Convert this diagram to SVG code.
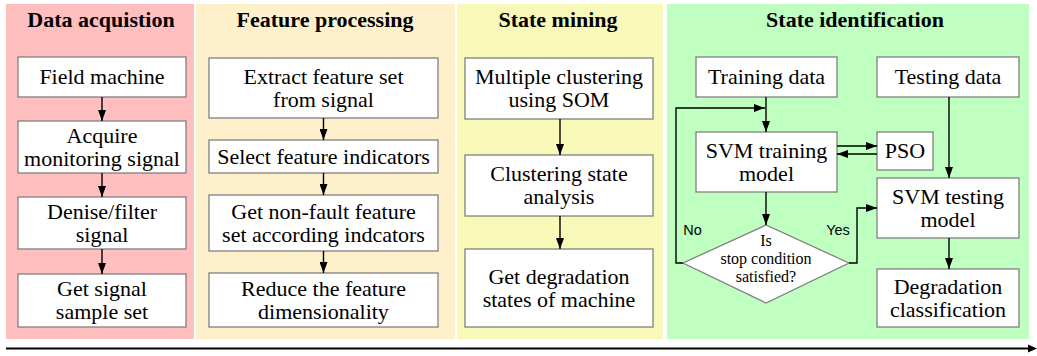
<svg xmlns="http://www.w3.org/2000/svg" width="1037" height="356" viewBox="0 0 1037 356">
<style>
.t{font-family:"Liberation Serif","Times New Roman",serif;font-size:22px;fill:#000;text-anchor:middle}
.h{font-family:"Liberation Serif","Times New Roman",serif;font-size:22px;font-weight:bold;fill:#000;text-anchor:middle}
.d{font-family:"Liberation Serif","Times New Roman",serif;font-size:16px;fill:#000;text-anchor:middle}
.s{font-family:"Liberation Sans",Arial,sans-serif;font-size:14.5px;fill:#000;text-anchor:middle}
.b{fill:#fff;stroke:#808080;stroke-width:1.3}
.c{fill:none;stroke:#000;stroke-width:1.4;marker-end:url(#ah)}
</style>
<defs>
<marker id="ah" markerUnits="userSpaceOnUse" markerWidth="11" markerHeight="8" refX="11" refY="4" orient="auto">
<path d="M0,0 L11,4 L0,8 z" fill="#000"/>
</marker>
</defs>
<rect width="1037" height="356" fill="#fff"/>
<g id="panels">
<rect x="6" y="4" width="188" height="335" fill="#ffbfbf"/>
<rect x="196" y="4" width="259" height="335" fill="#fff0cc"/>
<rect x="457" y="4" width="206" height="335" fill="#f8f8b8"/>
<rect x="667" y="4" width="362" height="335" fill="#bfffbf"/>
<text class="h" x="101" y="27">Data acquistion</text>
<text class="h" x="325" y="27">Feature processing</text>
<text class="h" x="558" y="27">State mining</text>
<text class="h" x="855" y="27">State identification</text>
</g>
<g id="field-machine"><rect class="b" x="18" y="57" width="168" height="40"/><text class="t" x="102" y="84">Field machine</text></g>
<g id="acquire"><rect class="b" x="18" y="121" width="168" height="52"/><text class="t" x="102" y="142.5">Acquire<tspan x="102" dy="23">monitoring signal</tspan></text></g>
<g id="denise"><rect class="b" x="18" y="197" width="168" height="52"/><text class="t" x="102" y="218.5">Denise/filter<tspan x="102" dy="23">signal</tspan></text></g>
<g id="sample-set"><rect class="b" x="18" y="274" width="168" height="53"/><text class="t" x="102" y="296">Get signal<tspan x="102" dy="23">sample set</tspan></text></g>
<g id="extract"><rect class="b" x="209" y="58" width="229" height="60"/><text class="t" x="323.5" y="83.5">Extract feature set<tspan x="323.5" dy="23">from signal</tspan></text></g>
<g id="select"><rect class="b" x="209" y="140" width="229" height="33"/><text class="t" x="323.5" y="163.5">Select feature indicators</text></g>
<g id="non-fault"><rect class="b" x="209" y="195" width="229" height="56"/><text class="t" x="323.5" y="218.5">Get non-fault feature<tspan x="323.5" dy="23">set according indcators</tspan></text></g>
<g id="reduce"><rect class="b" x="209" y="273" width="229" height="54"/><text class="t" x="323.5" y="295.5">Reduce the feature<tspan x="323.5" dy="23">dimensionality</tspan></text></g>
<g id="som"><rect class="b" x="465" y="58" width="188" height="61"/><text class="t" x="559" y="84">Multiple clustering<tspan x="559" dy="23">using SOM</tspan></text></g>
<g id="cluster-analysis"><rect class="b" x="465" y="155" width="188" height="61"/><text class="t" x="559" y="181">Clustering state<tspan x="559" dy="23">analysis</tspan></text></g>
<g id="degradation-states"><rect class="b" x="465" y="249" width="188" height="78"/><text class="t" x="559" y="283.5">Get degradation<tspan x="559" dy="23">states of machine</tspan></text></g>
<g id="training-data"><rect class="b" x="696" y="57" width="141" height="40"/><text class="t" x="766.5" y="84">Training data</text></g>
<g id="testing-data"><rect class="b" x="877" y="57" width="142" height="40"/><text class="t" x="948" y="84">Testing data</text></g>
<g id="svm-training"><rect class="b" x="696" y="132" width="141" height="60"/><text class="t" x="766.5" y="157.5">SVM training<tspan x="766.5" dy="23">model</tspan></text></g>
<g id="pso"><rect class="b" x="877" y="132" width="56" height="38"/><text class="t" x="905" y="158">PSO</text></g>
<g id="svm-testing"><rect class="b" x="877" y="178" width="142" height="60"/><text class="t" x="948" y="203.5">SVM testing<tspan x="948" dy="23">model</tspan></text></g>
<g id="degradation-class"><rect class="b" x="877" y="269" width="142" height="58"/><text class="t" x="948" y="293.5">Degradation<tspan x="948" dy="23">classification</tspan></text></g>
<g id="stop-condition"><polygon class="b" points="683,263 766,225 849,263 766,303"/><text class="d" x="766" y="246">Is<tspan x="766" dy="18">stop condition</tspan><tspan x="766" dy="18">satisfied?</tspan></text></g>
<g id="connectors">
<line class="c" x1="102" y1="97" x2="102" y2="121"/>
<line class="c" x1="102" y1="173" x2="102" y2="197"/>
<line class="c" x1="102" y1="249" x2="102" y2="274"/>
<line class="c" x1="323.5" y1="118" x2="323.5" y2="140"/>
<line class="c" x1="323.5" y1="173" x2="323.5" y2="195"/>
<line class="c" x1="323.5" y1="251" x2="323.5" y2="273"/>
<line class="c" x1="560" y1="119" x2="560" y2="155"/>
<line class="c" x1="560" y1="216" x2="560" y2="249"/>
<line class="c" x1="766" y1="97" x2="766" y2="132"/>
<polyline class="c" points="683,263 676,263 676,108 765,108"/>
<line class="c" x1="837" y1="146" x2="877" y2="146"/>
<line class="c" x1="877" y1="154" x2="837" y2="154"/>
<line class="c" x1="766" y1="192" x2="766" y2="225"/>
<polyline class="c" points="849,263 857,263 857,208 877,208"/>
<line class="c" x1="949" y1="97" x2="949" y2="178"/>
<line class="c" x1="949" y1="238" x2="949" y2="269"/>
<text class="s" x="692.5" y="234.5">No</text>
<text class="s" x="838" y="234.5">Yes</text>
<line x1="6" y1="348.5" x2="1030" y2="348.5" stroke="#000" stroke-width="2"/>
<path d="M1028,344.5 L1037,348.5 L1028,352.5 z" fill="#000"/>
</g>
</svg>
